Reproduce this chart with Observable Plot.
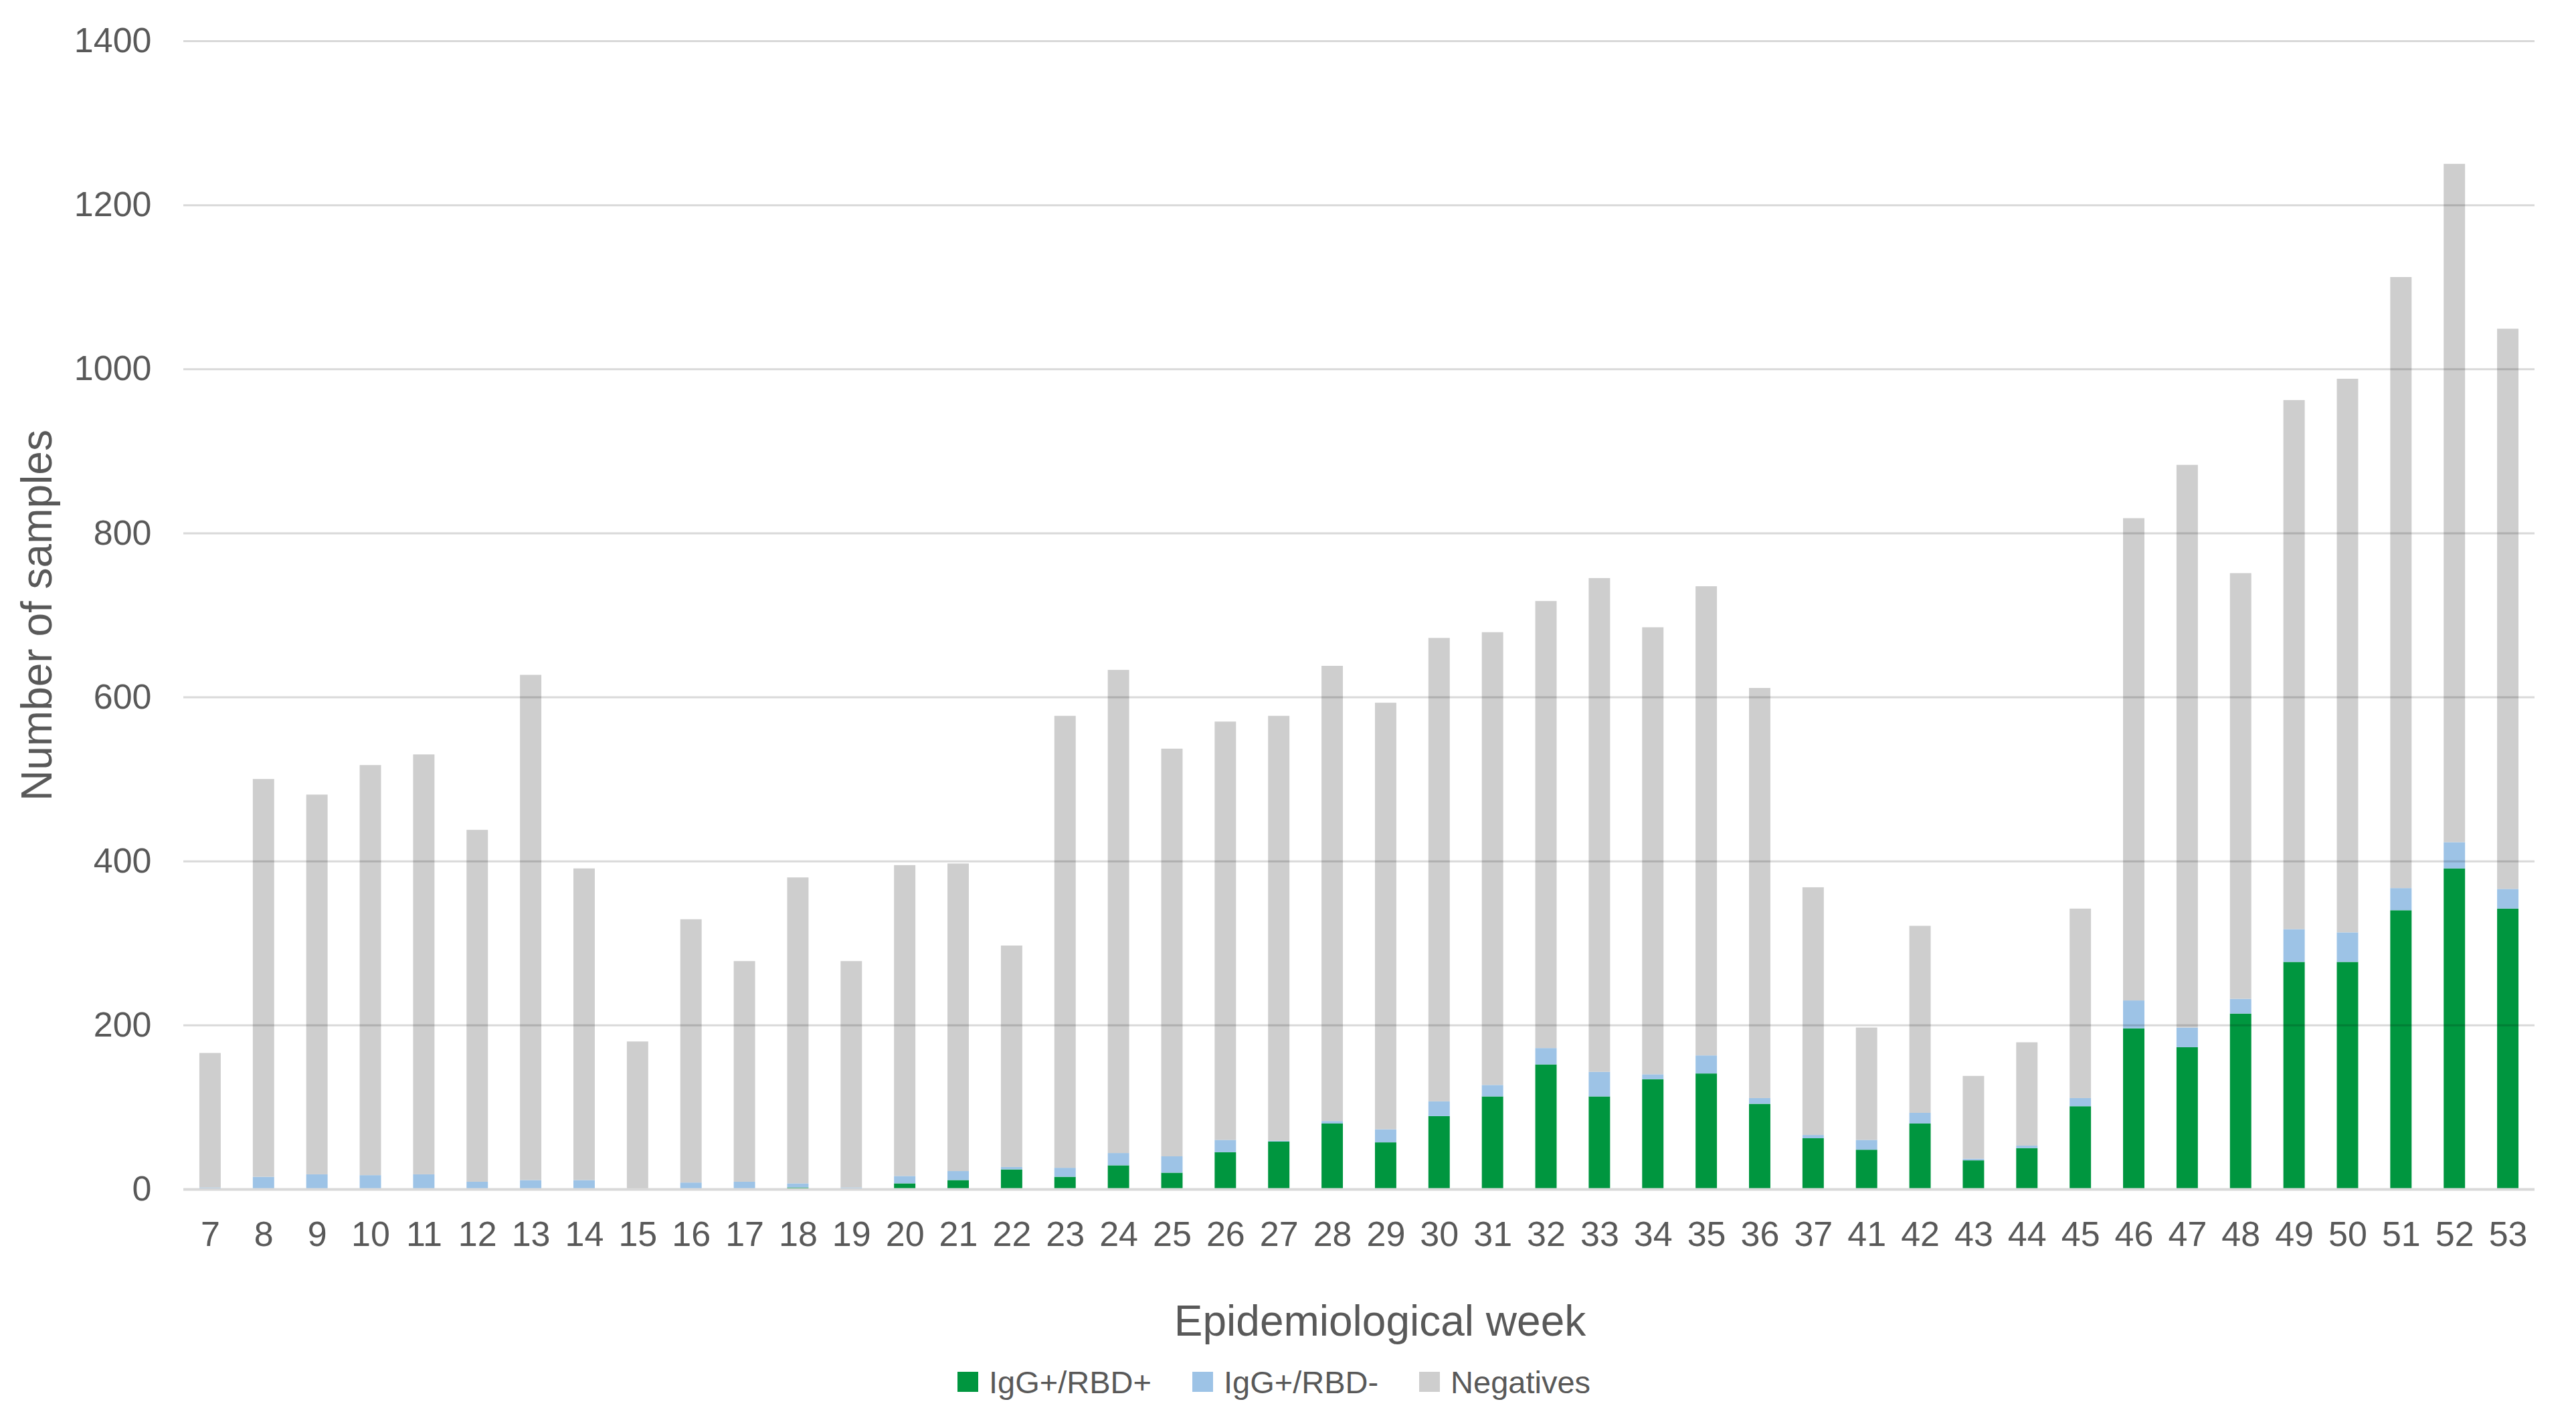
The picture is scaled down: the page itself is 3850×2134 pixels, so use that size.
<!DOCTYPE html>
<html>
<head>
<meta charset="utf-8">
<script src="https://cdn.jsdelivr.net/npm/d3@7"></script>
<script src="https://cdn.jsdelivr.net/npm/@observablehq/plot@0.6"></script>
<style>
  html, body { margin: 0; padding: 0; background: #fff; }
  #chart svg { display: block; }
  #legend {
    display: flex; align-items: center;
    padding-left: 1431px; height: 60px; margin-top: 5px;
    font-family: "Liberation Sans", Arial, sans-serif; font-size: 47px; color: #595959;
  }
  #legend .item { display: flex; align-items: center; margin-right: 61px; }
  #legend .sw { width: 31px; height: 30px; margin-right: 16px; }
</style>
</head>
<body>
<div id="chart"></div>
<div id="legend"></div>
<script>
const weeks = ["7","8","9","10","11","12","13","14","15","16","17","18","19","20","21","22","23","24","25","26","27","28","29","30","31","32","33","34","35","36","37","41","42","43","44","45","46","47","48","49","50","51","52","53"];
const igPosRbdPos = [0,0,0,0,0,0,0,0,0,0,0,2,0,7,11,24,15,29,20,45,58,80,57,89,113,152,113,134,141,104,62,48,80,35,50,101,196,173,214,277,277,340,391,342];
const igPosRbdNeg = [2,15,18,17,18,9,11,11,0,8,9,5,2,9,11,3,11,15,20,15,1,3,16,18,14,20,30,6,22,7,4,12,13,2,3,10,34,24,18,40,36,27,32,24];
const negatives   = [164,485,463,500,512,429,616,380,180,321,269,373,276,379,375,270,551,589,497,510,518,555,520,565,552,545,602,545,572,500,302,137,228,101,126,231,588,686,519,645,675,745,827,683];
const seriesNames = ["IgG+/RBD+","IgG+/RBD-","Negatives"];
const seriesColors = ["#00963F","#9DC3E6","#CECECE"];
const yTicks = [0,200,400,600,800,1000,1200,1400];

const seriesValues = [igPosRbdPos, igPosRbdNeg, negatives];
const rows = [];
weeks.forEach((w, i) => {
  seriesNames.forEach((s, k) => rows.push({week: w, series: s, value: seriesValues[k][i]}));
});

const chart = Plot.plot({
  width: 3850,
  height: 2030,
  marginLeft: 274,
  marginRight: 62,
  marginTop: 61,
  marginBottom: 253,
  x: {domain: weeks, paddingInner: 0.6, paddingOuter: 0.3, label: null},
  y: {domain: [0, 1400], label: null},
  color: {domain: seriesNames, range: seriesColors},
  style: {fontFamily: "'Liberation Sans', Arial, sans-serif", color: "#595959", background: "#fff"},
  marks: [
    Plot.barY(rows, {x: "week", y: "value", fill: "series", order: seriesNames}),
    Plot.gridY(yTicks.filter(d => d > 0), {stroke: "#000", strokeOpacity: 0.15, strokeWidth: 3}),
    Plot.ruleY([0], {stroke: "#d9d9d9", strokeWidth: 4}),
    Plot.axisY(yTicks, {tickSize: 0, tickPadding: 48, fontSize: 52, label: null, tickFormat: d => String(d)}),
    Plot.axisX({tickSize: 0, tickPadding: 48, fontSize: 52, label: null}),
    Plot.text(["Number of samples"], {text: d => d, frameAnchor: "left", textAnchor: "middle", dx: -218, rotate: -90, fontSize: 64, fill: "#595959"}),
    Plot.text(["Epidemiological week"], {text: d => d, frameAnchor: "bottom", dx: 31, dy: 218, fontSize: 64, fill: "#595959"})
  ]
});
document.getElementById("chart").appendChild(chart);

const legend = document.getElementById("legend");
seriesNames.forEach((s, k) => {
  const item = document.createElement("div");
  item.className = "item";
  const sw = document.createElement("div");
  sw.className = "sw";
  sw.style.background = seriesColors[k];
  const lab = document.createElement("span");
  lab.textContent = s;
  item.appendChild(sw);
  item.appendChild(lab);
  legend.appendChild(item);
});
</script>
</body>
</html>
